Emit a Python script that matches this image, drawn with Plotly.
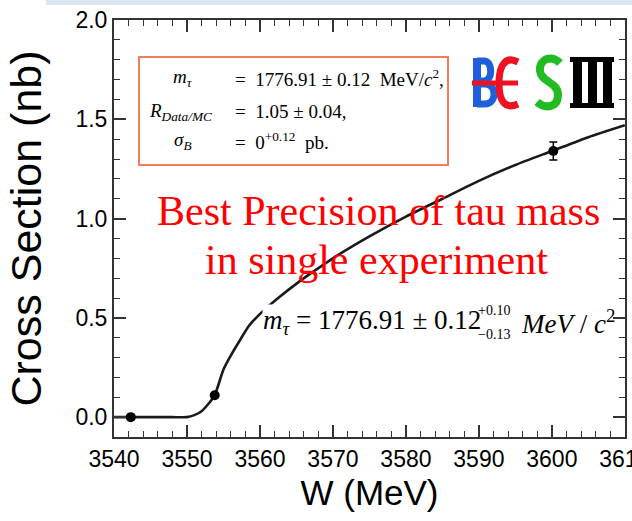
import plotly.graph_objects as go

# ---------------- data ----------------
data_w = [3542.3, 3553.8, 3600.2]
data_xs = [0.0, 0.11, 1.34]
data_err = [0.0, 0.0, 0.045]

fit_w = [3540, 3542, 3544, 3546, 3548, 3550, 3551, 3552, 3553, 3553.8, 3555, 3556,
         3557.3, 3558.5, 3560.3, 3562.5, 3565.1, 3567, 3570, 3575, 3580, 3585,
         3590, 3595, 3600, 3605, 3610]
fit_xs = [0.0, 0.0, 0.0, 0.0, 0.0, 0.0, 0.01, 0.03, 0.07, 0.11, 0.24, 0.31,
          0.39, 0.46, 0.53, 0.60, 0.675, 0.725, 0.80, 0.91, 1.01, 1.10,
          1.19, 1.27, 1.34, 1.41, 1.47]

x_range = [3540, 3610.02]
y_range = [-0.1, 2.0]

# ---------------- geometry helpers (pixel -> paper) ----------------
W, H = 632, 521
L, R, T, B = 114, 625, 20, 437


def px(x):
    return (x - L) / (R - L)


def py(y):
    return 1 - (y - T) / (B - T)


def path(cmds):
    out = []
    for c in cmds:
        op, nums = c[0], c[1:]
        pts = []
        for i in range(0, len(nums), 2):
            pts.append(f"{px(nums[i]):.5f},{py(nums[i+1]):.5f}")
        out.append(op + " " + " ".join(pts))
    return " ".join(out)


fig = go.Figure()

fig.add_trace(go.Scatter(
    x=fit_w, y=fit_xs, mode="lines", line=dict(color="#1a1a1a", width=2.6, shape="spline", smoothing=0.6),
    hoverinfo="skip", showlegend=False))

fig.add_trace(go.Scatter(
    x=data_w, y=data_xs, mode="markers",
    marker=dict(color="black", size=10),
    error_y=dict(type="data", array=data_err, visible=True, color="black", thickness=1.5, width=4),
    showlegend=False))

sans = "Liberation Sans, Arial, Helvetica, sans-serif"
serif = "Liberation Serif, Times New Roman, serif"

axis_common = dict(
    showline=True, linecolor="#333", linewidth=2, mirror="ticks",
    ticks="inside", ticklen=12, tickwidth=1.5, tickcolor="#333",
    showgrid=False, zeroline=False, ticklabeloverflow="allow",
    tickfont=dict(family=sans, size=23, color="black"),
)

fig.update_xaxes(range=x_range, dtick=10, tick0=3540,
                 minor=dict(ticks="inside", ticklen=6, dtick=2, tickcolor="#333", tickwidth=1.2),
                 title=dict(text="W (MeV)", font=dict(family=sans, size=35, color="black"), standoff=10),
                 **axis_common)
fig.update_yaxes(range=y_range, dtick=0.5, tick0=0, tickformat=".1f",
                 minor=dict(ticks="inside", ticklen=6, dtick=0.1, tickcolor="#333", tickwidth=1.2),
                 title=dict(text="Cross Section (nb)", font=dict(family=sans, size=43, color="black"), standoff=20),
                 **axis_common)

shapes = []
# top slide band
shapes.append(dict(type="rect", xref="paper", yref="paper", x0=px(46), x1=px(632), y0=py(5), y1=py(0),
                   fillcolor="#dce5f0", line=dict(width=0), layer="below"))
# parameter box
shapes.append(dict(type="rect", xref="paper", yref="paper", x0=px(139), x1=px(448), y0=py(165), y1=py(57),
                   fillcolor="white", line=dict(color="#f07e5e", width=2)))
# BESIII logo
blue, red, green = "#1f5fdc", "#ee1122", "#22bb22"
shapes.append(dict(type="path", xref="paper", yref="paper",
                   path=path([("M", 477, 58), ("L", 477, 107)]),
                   line=dict(color=blue, width=8)))
shapes.append(dict(type="path", xref="paper", yref="paper",
                   path=path([("M", 477, 61), ("L", 484, 61), ("C", 493, 61, 493, 81, 484, 81), ("L", 477, 81)]),
                   line=dict(color=blue, width=7)))
shapes.append(dict(type="path", xref="paper", yref="paper",
                   path=path([("M", 477, 84), ("L", 485, 84), ("C", 497, 84, 497, 104, 485, 104), ("L", 477, 104)]),
                   line=dict(color=blue, width=7)))
shapes.append(dict(type="path", xref="paper", yref="paper",
                   path=path([("M", 518, 62), ("C", 502, 54, 499, 72, 499, 83), ("C", 499, 96, 502, 111, 518, 104)]),
                   line=dict(color=red, width=7)))
shapes.append(dict(type="path", xref="paper", yref="paper",
                   path=path([("M", 472, 83), ("L", 518, 83)]),
                   line=dict(color=red, width=5)))
shapes.append(dict(type="path", xref="paper", yref="paper",
                   path=path([("M", 560, 63), ("C", 552, 55, 539, 58, 540, 71), ("C", 541, 82, 558, 82, 558, 95),
                              ("C", 558, 108, 545, 109, 537, 102)]),
                   line=dict(color=green, width=8)))
# III
shapes.append(dict(type="rect", xref="paper", yref="paper", x0=px(570), x1=px(614), y0=py(62), y1=py(57),
                   fillcolor="black", line=dict(width=0)))
shapes.append(dict(type="rect", xref="paper", yref="paper", x0=px(570), x1=px(614), y0=py(108), y1=py(103),
                   fillcolor="black", line=dict(width=0)))
for x0 in (573, 588, 603):
    shapes.append(dict(type="rect", xref="paper", yref="paper", x0=px(x0), x1=px(x0 + 9), y0=py(108), y1=py(57),
                       fillcolor="black", line=dict(width=0)))

annotations = []


def ann(text, x, y, size, family=serif, color="black", xanchor="left", yanchor="middle", **kw):
    annotations.append(dict(text=text, x=px(x), y=py(y), xref="paper", yref="paper", showarrow=False,
                            xanchor=xanchor, yanchor=yanchor,
                            font=dict(family=family, size=size, color=color), **kw))


# box contents
ann("<i>m</i><sub><i>τ</i></sub>", 183, 78, 19, xanchor="center")
ann("<i>R</i><sub><i>Data/MC</i></sub>", 180, 112, 19, xanchor="center")
ann("<i>σ</i><sub><i>B</i></sub>", 183, 141, 19, xanchor="center")
ann("=  1776.91 ± 0.12  MeV/<i>c</i><sup>2</sup>,", 233, 78, 19)
ann("=  1.05 ± 0.04,", 233, 112, 19)
ann("=  0<sup>+0.12</sup>  pb.", 233, 141, 19)

# red headline
ann("Best Precision of tau mass", 378, 211, 42, color="#ff0000", xanchor="center")
ann("in single experiment", 376, 260, 42, color="#ff0000", xanchor="center")

# formula
ann("<i>m</i><sub><i>τ</i></sub> = 1776.91 ± 0.12", 262, 322, 27, bgcolor="white", borderpad=0)
ann("+0.10", 477, 310, 14, borderpad=0)
ann("−0.13", 477, 334, 14, borderpad=0)
ann("<i>MeV</i> / <i>c</i><sup>2</sup>", 519, 322, 27)

fig.update_layout(
    width=W, height=H,
    margin=dict(l=L, r=W - R, t=T, b=H - B, autoexpand=False),
    paper_bgcolor="white", plot_bgcolor="white",
    shapes=shapes, annotations=annotations,
    showlegend=False,
)

fig.write_html("out.html")
